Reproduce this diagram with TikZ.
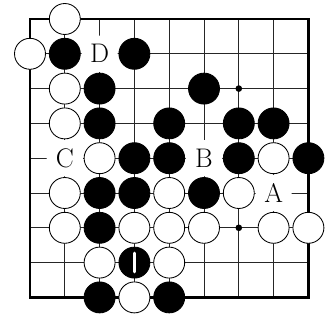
\documentclass[tikz,border=0pt]{standalone}
\usepackage{tikz}
\usetikzlibrary{positioning}
\tikzset{
  gostone/.style={circle, draw=black, line width=0.7pt, minimum size=8.9mm, inner sep=0pt},
  bstone/.style={gostone, fill=black},
  wstone/.style={gostone, fill=white},
  ptlabel/.style={circle, fill=white, minimum size=10.4mm, inner sep=0pt,
    font=\fontsize{22}{26}\selectfont},
  hoshi/.style={circle, fill=black, minimum size=1.9mm, inner sep=0pt},
  gridline/.style={line width=0.7pt, black!85},
  edgeline/.style={line width=2.4pt, line cap=rect},
  marker/.style={white, line width=2.4pt, line cap=round}
}

\begin{document}
\begin{tikzpicture}
  \useasboundingbox (-0.862,0.546) rectangle (8.563,-8.65);
  % board
  \draw[gridline] (0,0) grid (8,-8);
  \draw[edgeline] (0,0) rectangle (8,-8);
  \node[hoshi] (h62) at (6,-2) {};
  \node[hoshi] (h66) at (6,-6) {};
  % white stones
  \node[wstone] (w10) at (1,0) {};
  \node[wstone] (w01) at (0,-1) {};
  \node[wstone] (w12) at (1,-2) {};
  \node[wstone] (w13) at (1,-3) {};
  \node[wstone] (w24) at (2,-4) {};
  \node[wstone] (w74) at (7,-4) {};
  \node[wstone] (w15) at (1,-5) {};
  \node[wstone] (w45) at (4,-5) {};
  \node[wstone] (w65) at (6,-5) {};
  \node[wstone] (w16) at (1,-6) {};
  \node[wstone] (w36) at (3,-6) {};
  \node[wstone] (w46) at (4,-6) {};
  \node[wstone] (w56) at (5,-6) {};
  \node[wstone] (w76) at (7,-6) {};
  \node[wstone] (w86) at (8,-6) {};
  \node[wstone] (w27) at (2,-7) {};
  \node[wstone] (w47) at (4,-7) {};
  \node[wstone] (w38) at (3,-8) {};
  % black stones
  \node[bstone] (b11) at (1,-1) {};
  \node[bstone] (b31) at (3,-1) {};
  \node[bstone] (b22) at (2,-2) {};
  \node[bstone] (b52) at (5,-2) {};
  \node[bstone] (b23) at (2,-3) {};
  \node[bstone] (b43) at (4,-3) {};
  \node[bstone] (b63) at (6,-3) {};
  \node[bstone] (b73) at (7,-3) {};
  \node[bstone] (b34) at (3,-4) {};
  \node[bstone] (b44) at (4,-4) {};
  \node[bstone] (b64) at (6,-4) {};
  \node[bstone] (b84) at (8,-4) {};
  \node[bstone] (b25) at (2,-5) {};
  \node[bstone] (b35) at (3,-5) {};
  \node[bstone] (b55) at (5,-5) {};
  \node[bstone] (b26) at (2,-6) {};
  \node[bstone] (b37) at (3,-7) {};
  \node[bstone] (b28) at (2,-8) {};
  \node[bstone] (b48) at (4,-8) {};
  \draw[marker] ([yshift=2.7mm]b37.center) -- ([yshift=-2.7mm]b37.center);
  % labels
  \node[ptlabel] (lD) at (2,-1) {D};
  \node[ptlabel] (lC) at (1,-4) {C};
  \node[ptlabel] (lB) at (5,-4) {B};
  \node[ptlabel] (lA) at (7,-5) {A};
\end{tikzpicture}
\end{document}
